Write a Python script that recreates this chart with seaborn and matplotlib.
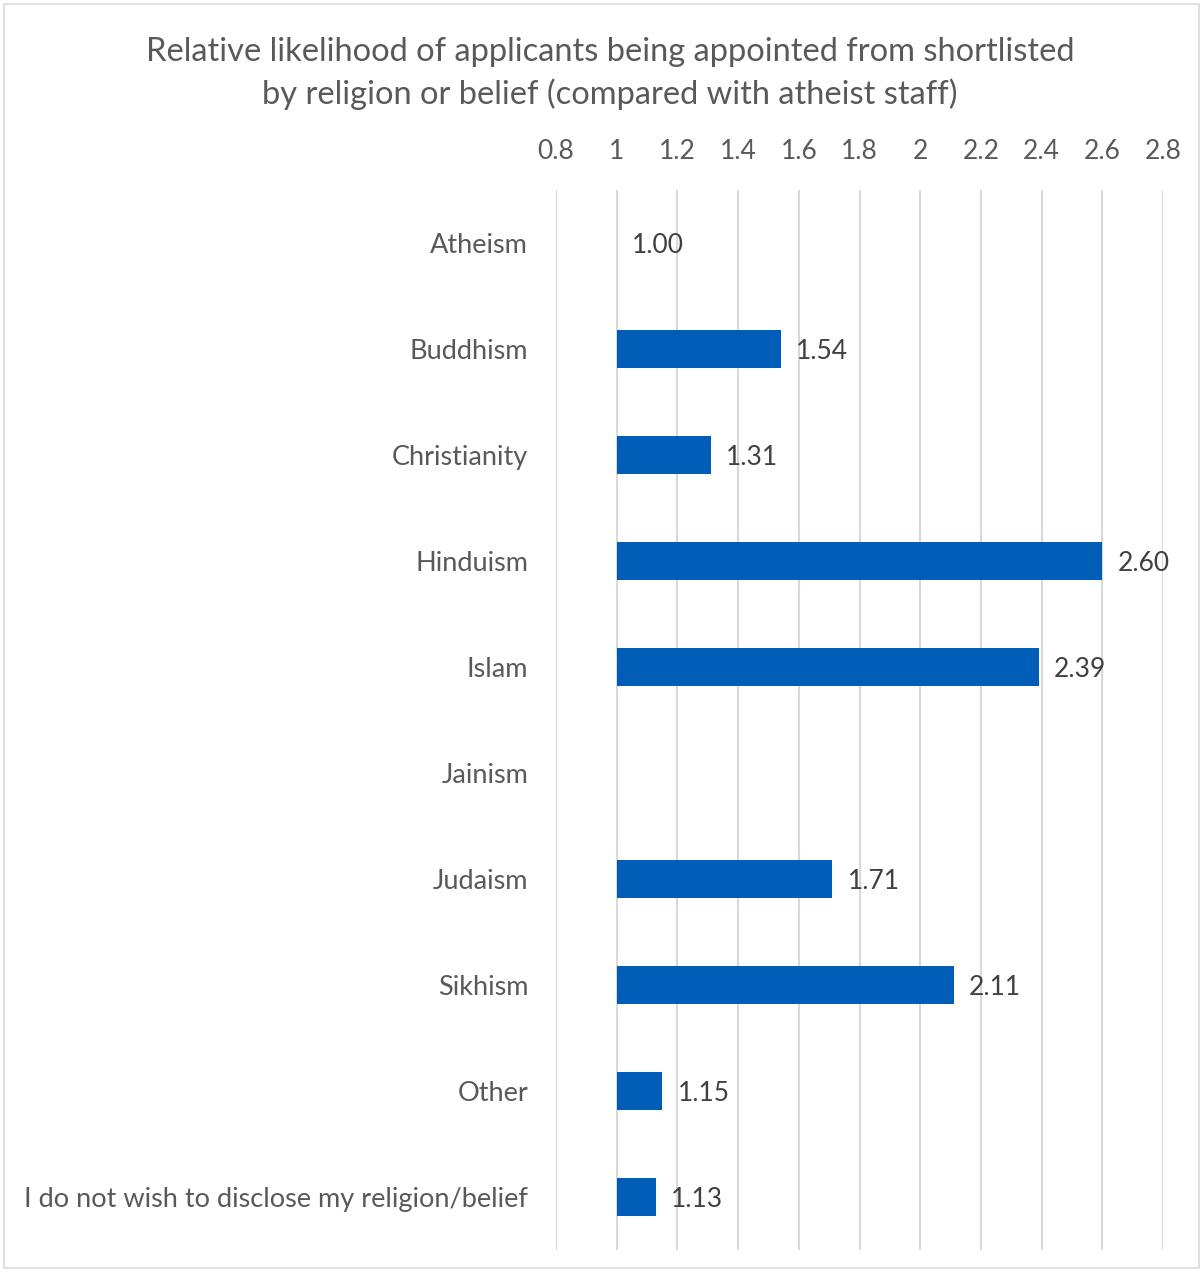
import numpy as np
import pandas as pd
import seaborn as sns
import matplotlib.pyplot as plt
from matplotlib.patches import Rectangle

sns.set_style("white")
plt.rcParams['font.family'] = ['Lato', 'DejaVu Sans']

categories = ['Atheism', 'Buddhism', 'Christianity', 'Hinduism', 'Islam', 'Jainism',
              'Judaism', 'Sikhism', 'Other', 'I do not wish to disclose my religion/belief']
values = [1.00, 1.54, 1.31, 2.60, 2.39, np.nan, 1.71, 2.11, 1.15, 1.13]
xticks = [0.8, 1, 1.2, 1.4, 1.6, 1.8, 2, 2.2, 2.4, 2.6, 2.8]
xtick_labels = ['0.8', '1', '1.2', '1.4', '1.6', '1.8', '2', '2.2', '2.4', '2.6', '2.8']
baseline = 1.0

df = pd.DataFrame({'religion': categories, 'value': values})
df['width'] = df['value'] - baseline

grey = '#595959'
fig = plt.figure(figsize=(12.03, 12.72), dpi=100)
ax = fig.add_axes([0.4622, 0.0173, 0.5046, 0.8333])

sns.barplot(data=df, y='religion', x='width', order=categories, color='#005EB8',
            saturation=1, width=0.35, left=baseline, linewidth=0, ax=ax, errorbar=None)

ax.set_xlim(0.8, 2.8)
ax.set_ylim(len(categories) - 0.5, -0.5)
ax.set_xticks(xticks)
ax.set_xticklabels(xtick_labels)
ax.xaxis.tick_top()
ax.tick_params(axis='x', length=0, pad=19, labelsize=19, labelcolor=grey)
ax.tick_params(axis='y', length=0, pad=20, labelsize=19.5, labelcolor=grey)
ax.set_xlabel('')
ax.set_ylabel('')
ax.grid(axis='x', color='#d9d9d9', linewidth=1.5)
ax.set_axisbelow(True)
for s in ax.spines.values():
    s.set_visible(False)

# value labels just past the end of each bar
for i, v in enumerate(values):
    if np.isnan(v):
        continue
    ax.text(v + 0.05, i + 0.02, f'{v:.2f}', va='center', ha='left', fontsize=19, color='#404040')

fig.text(0.507, 0.942, 'Relative likelihood of applicants being appointed from shortlisted\n'
         'by religion or belief (compared with atheist staff)',
         ha='center', va='center', fontsize=23.5, color=grey, linespacing=1.45)

fig.patches.append(Rectangle((0.003, 0.003), 0.994, 0.994, transform=fig.transFigure,
                             fill=False, edgecolor='#d9d9d9', linewidth=1.2))

fig.savefig('out.png', dpi=100)
